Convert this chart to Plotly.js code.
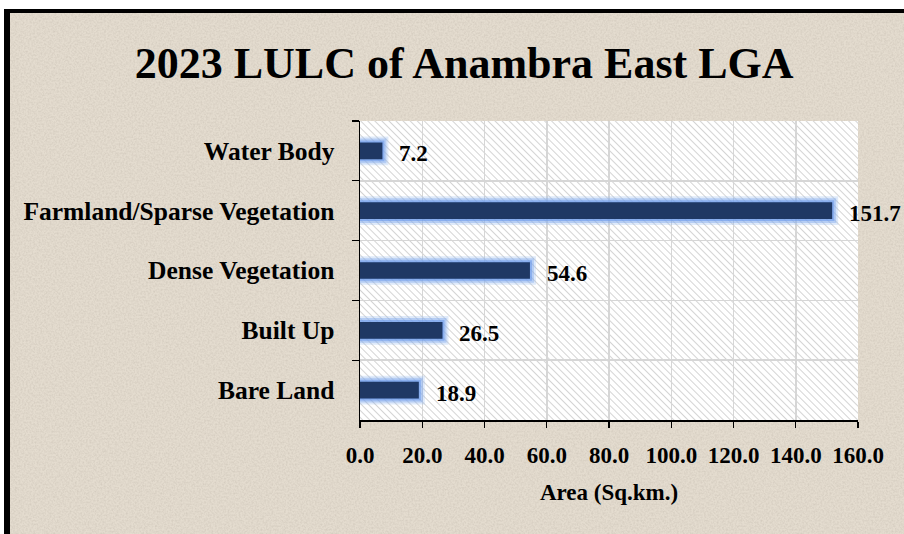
<!DOCTYPE html>
<html>
<head>
<meta charset="utf-8">
<script src="https://cdn.plot.ly/plotly-3.0.1.min.js"></script>
<style>
html,body{margin:0;padding:0;background:#ffffff;width:904px;height:534px;overflow:hidden;}
#frame{position:absolute;left:4px;top:9px;width:894px;height:521px;border-left:6px solid #000;border-top:4px solid #000;}
#chart{width:894px;height:521px;}
</style>
</head>
<body>
<div id="frame"><div id="chart"></div></div>
<script>
const categories = ["Water Body", "Farmland/Sparse Vegetation", "Dense Vegetation", "Built Up", "Bare Land"];
const areas = [7.2, 151.7, 54.6, 26.5, 18.9];
const xTicks = [0, 20, 40, 60, 80, 100, 120, 140, 160];
const xTickLabels = ["0.0", "20.0", "40.0", "60.0", "80.0", "100.0", "120.0", "140.0", "160.0"];

const FONT = "'Liberation Serif', 'Times New Roman', serif";

const hatchSvg = '<svg xmlns="http://www.w3.org/2000/svg" width="498" height="299" preserveAspectRatio="none">' +
  '<defs><pattern id="h" width="5" height="5" patternUnits="userSpaceOnUse" patternTransform="rotate(-45)">' +
  '<rect width="5" height="5" fill="#ffffff"/><line x1="0" y1="0" x2="0" y2="5" stroke="#c9c9c9" stroke-width="1.6"/></pattern></defs>' +
  '<rect width="498" height="299" fill="url(#h)"/></svg>';

const noiseSvg = '<svg xmlns="http://www.w3.org/2000/svg" width="894" height="521" preserveAspectRatio="none">' +
  '<filter id="n"><feTurbulence type="fractalNoise" baseFrequency="0.55" numOctaves="2" seed="3"/>' +
  '<feColorMatrix type="matrix" values="0 0 0 0 0.45  0 0 0 0 0.40  0 0 0 0 0.34  0 0 0 -1.6 1.05"/></filter>' +
  '<rect width="894" height="521" fill="#e4dccf"/>' +
  '<rect width="894" height="521" filter="url(#n)" opacity="0.35"/></svg>';

const glowOuter = {
  type: 'bar', orientation: 'h', x: areas, y: categories, width: 0.28,
  marker: {color: 'rgba(150,185,240,0.3)', line: {color: 'rgba(150,185,240,0.3)', width: 12}},
  hoverinfo: 'skip', showlegend: false
};
const glowMid = {
  type: 'bar', orientation: 'h', x: areas, y: categories, width: 0.28,
  marker: {color: 'rgba(130,170,238,0.45)', line: {color: 'rgba(130,170,238,0.45)', width: 8}},
  hoverinfo: 'skip', showlegend: false
};
const glowInner = {
  type: 'bar', orientation: 'h', x: areas, y: categories, width: 0.28,
  marker: {color: 'rgba(110,155,235,0.6)', line: {color: 'rgba(110,155,235,0.6)', width: 4}},
  hoverinfo: 'skip', showlegend: false
};
const main = {
  type: 'bar', orientation: 'h', x: areas, y: categories, width: 0.28,
  marker: {color: '#1f3864', line: {width: 0}},
  showlegend: false
};

const annotations = categories.map((c, i) => ({
  x: areas[i], y: c, xref: 'x', yref: 'y', text: '<b>' + areas[i].toFixed(1) + '</b>',
  showarrow: false, xanchor: 'left', yanchor: 'middle', xshift: 15, yshift: -3,
  font: {family: FONT, size: 23, color: '#000'}
}));

const layout = {
  width: 894, height: 521,
  margin: {l: 350, r: 46, t: 108, b: 114},
  paper_bgcolor: '#e4dccf',
  plot_bgcolor: 'rgba(0,0,0,0)',
  barmode: 'overlay',
  title: {text: '<b>2023 LULC of Anambra East LGA</b>', font: {family: FONT, size: 44, color: '#000'},
          xref: 'container', x: 0.508, xanchor: 'center', yref: 'container', y: 0.905, yanchor: 'middle'},
  xaxis: {
    range: [0, 160], tickvals: xTicks, ticktext: xTickLabels.map(t => '<b>' + t + '</b>'),
    showgrid: true, gridcolor: '#d6d6d6', gridwidth: 1.5,
    showline: true, linecolor: '#000', linewidth: 1.5,
    ticks: 'outside', ticklen: 6, tickcolor: '#000', tickwidth: 1.2,
    ticklabelstandoff: 8,
    tickfont: {family: FONT, size: 23, color: '#000'},
    title: {text: '<b>Area (Sq.km.)</b>', font: {family: FONT, size: 23, color: '#000'}, standoff: 17},
    zeroline: false, fixedrange: true
  },
  yaxis: {
    type: 'category', autorange: 'reversed', tickson: 'boundaries',
    showgrid: true, gridcolor: '#d6d6d6', gridwidth: 1.5,
    showline: true, linecolor: '#000', linewidth: 1.5,
    ticks: 'outside', ticklen: 7, tickcolor: '#000', tickwidth: 1.2,
    ticklabelstandoff: 19,
    tickfont: {family: FONT, size: 25.5, color: '#000'},
    tickprefix: '<b>', ticksuffix: '</b>',
    zeroline: false, fixedrange: true
  },
  images: [{
    source: 'data:image/svg+xml;charset=utf-8,' + encodeURIComponent(noiseSvg),
    xref: 'paper', yref: 'paper', x: -350/498, y: 1 + 108/299, sizex: 894/498, sizey: 521/299,
    sizing: 'stretch', xanchor: 'left', yanchor: 'top', layer: 'below'
  }, {
    source: 'data:image/svg+xml;charset=utf-8,' + encodeURIComponent(hatchSvg),
    xref: 'paper', yref: 'paper', x: 0, y: 1, sizex: 1, sizey: 1,
    sizing: 'stretch', xanchor: 'left', yanchor: 'top', layer: 'below'
  }],
  annotations: annotations
};

Plotly.newPlot('chart', [glowOuter, glowMid, glowInner, main], layout, {displayModeBar: false, staticPlot: true});
</script>
</body>
</html>
